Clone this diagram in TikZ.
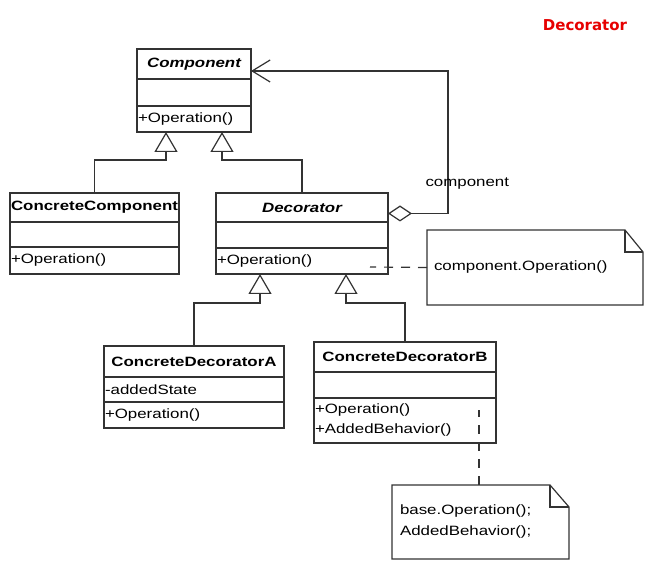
\documentclass[tikz,border=0pt]{standalone}
\usepackage{fontspec}
\setmainfont{Liberation Sans}[FakeStretch=1.25]
\newfontfamily\titlefont{DejaVu Sans}
\usetikzlibrary{positioning,arrows.meta,calc}
\definecolor{umlline}{gray}{0.2}
\definecolor{titlered}{RGB}{230,0,0}
\newcommand{\umlfont}{\fontsize{13.5}{20}\selectfont}

\begin{document}
\begin{tikzpicture}[x=1pt,y=-1pt,font=\umlfont]
\tikzstyle{head}=[rectangle, draw=umlline, line width=1.2pt, inner sep=0pt, outer sep=0pt, anchor=north west, font=\umlfont\bfseries]
\tikzstyle{part}=[rectangle, draw=umlline, line width=1.2pt, inner xsep=1pt, inner ysep=0pt, outer sep=0pt, align=left]
\tikzstyle{note}=[rectangle, inner xsep=7pt, inner ysep=0pt, outer sep=0pt, anchor=north west, align=left]
\tikzstyle{outline}=[draw=umlline, line width=1.2pt]
\tikzstyle{inherit}=[-{Triangle[open,width=23pt,length=20pt]}, draw=umlline, line width=1.2pt]
\tikzstyle{assoc}=[{Diamond[open,width=16pt,length=24pt]}-{Straight Barb[length=18pt,width=22pt]}, draw=umlline, line width=1.2pt]
\tikzstyle{link}=[draw=umlline, line width=1.2pt, dash pattern=on 9pt off 8pt]

	\useasboundingbox (0,0) rectangle (657,572);

	\node[font=\titlefont\fontsize{15}{18}\selectfont\bfseries, text=titlered] (title) at (585,25) {Decorator};

	% Component
	\node[head, minimum width=114pt, minimum height=30pt, font=\umlfont\bfseries\itshape] (comp) at (137,49) {Component};
	\node[part, text width=112pt, minimum height=27pt, below=0pt of comp] (comp-a) {};
	\node[part, text width=112pt, minimum height=26pt, below=0pt of comp-a] (comp-o) {+Operation()};

	% ConcreteComponent
	\node[head, minimum width=169pt, minimum height=29pt] (ccomp) at (10,193) {ConcreteComponent};
	\node[part, text width=167pt, minimum height=25pt, below=0pt of ccomp] (ccomp-a) {};
	\node[part, text width=167pt, minimum height=27pt, below=0pt of ccomp-a] (ccomp-o) {+Operation()};

	% Decorator
	\node[head, minimum width=172pt, minimum height=29pt, font=\umlfont\bfseries\itshape] (dec) at (216,193) {Decorator};
	\node[part, text width=170pt, minimum height=26pt, below=0pt of dec] (dec-a) {};
	\node[part, text width=170pt, minimum height=26pt, below=0pt of dec-a] (dec-o) {+Operation()};

	% ConcreteDecoratorA
	\node[head, minimum width=180pt, minimum height=31pt] (cda) at (104,346) {ConcreteDecoratorA};
	\node[part, text width=178pt, minimum height=25pt, below=0pt of cda] (cda-a) {-addedState};
	\node[part, text width=178pt, minimum height=26pt, below=0pt of cda-a] (cda-o) {+Operation()};

	% ConcreteDecoratorB
	\node[head, minimum width=182pt, minimum height=30pt] (cdb) at (314,342) {ConcreteDecoratorB};
	\node[part, text width=180pt, minimum height=26pt, below=0pt of cdb] (cdb-a) {};
	\node[part, text width=180pt, minimum height=45pt, below=0pt of cdb-a] (cdb-o) {+Operation()\\+AddedBehavior()};

	% notes
	\node[note, text width=202pt, minimum height=75pt] (note1) at (427,230) {component.Operation()};
	\draw[outline] (note1.north west) -- ($(note1.north east)+(-18,0)$) -- ($(note1.north east)+(0,22)$) -- (note1.south east) -- (note1.south west) -- cycle;
	\draw[outline] ($(note1.north east)+(-18,0)$) |- ($(note1.north east)+(0,22)$);

	\node[note, inner xsep=8pt, text width=161pt, minimum height=74pt, font=\fontsize{13.5}{21}\selectfont] (note2) at (392,485) {base.Operation();\\AddedBehavior();};
	\draw[outline] (note2.north west) -- ($(note2.north east)+(-19,0)$) -- ($(note2.north east)+(0,22)$) -- (note2.south east) -- (note2.south west) -- cycle;
	\draw[outline] ($(note2.north east)+(-19,0)$) |- ($(note2.north east)+(0,22)$);

	% connectors
	\draw[inherit] (ccomp.north) -- ++(0,-33) -| ($(comp-o.south)+(-28,0)$);
	\draw[inherit] (dec.north) -- ++(0,-33) -| ($(comp-o.south)+(28,0)$);
	\draw[inherit] (cda.north) -- ++(0,-43) -| ($(dec-o.south)+(-42,0)$);
	\draw[inherit] (cdb.north) -- ++(0,-39) -| ($(dec-o.south)+(44,0)$);

	\draw[assoc] ($(dec.east)+(0,6)$) -- ++(60,0) |- ($(comp.east)+(0,7)$);
	\node[anchor=west] (role) at (422,184) {component};

	\coordinate (dec-op) at (370,267);
	\coordinate (cdb-op) at (479,410);
	\draw[link] (note1.west) -- (dec-op);
	\draw[link] (cdb-op |- note2.north) -- (cdb-op);

\end{tikzpicture}
\end{document}
